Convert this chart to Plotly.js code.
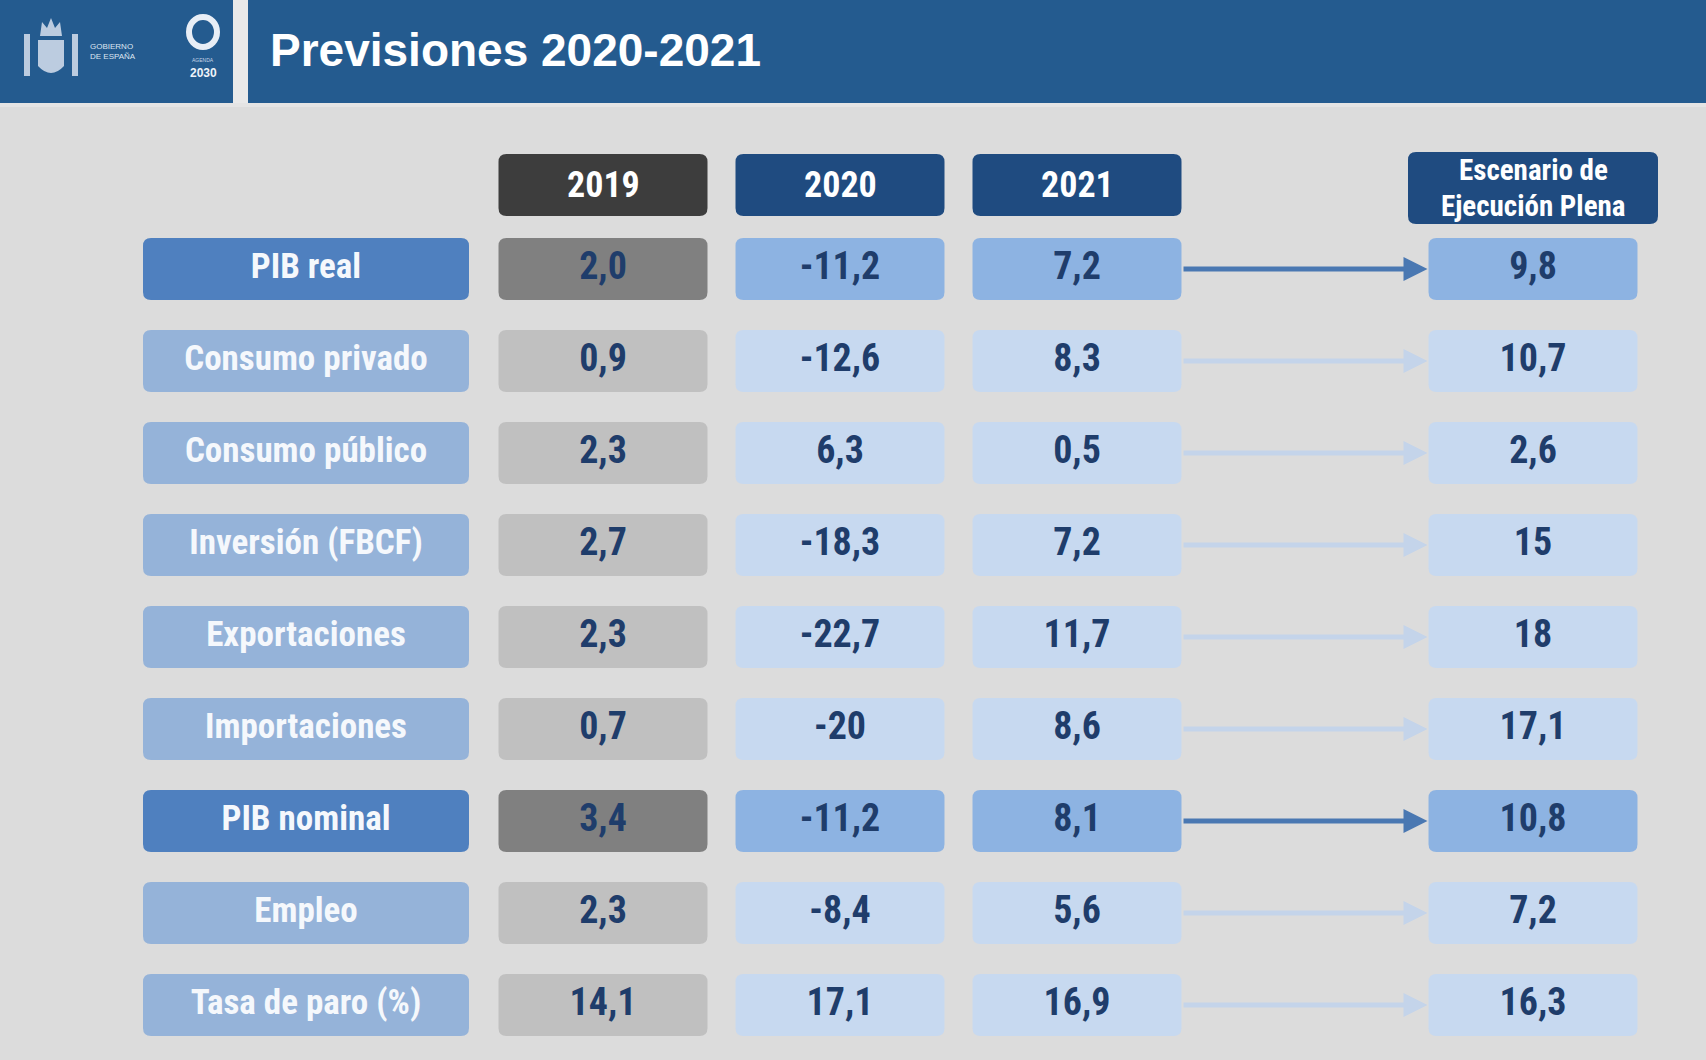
<!DOCTYPE html>
<html>
<head>
<meta charset="utf-8">
<script src="https://cdn.plot.ly/plotly-3.0.1.min.js"></script>
<style>
  html, body { margin: 0; padding: 0; background: #dcdcdc; }
  #chart { width: 1706px; height: 1060px; }
</style>
</head>
<body>
<div id="chart"></div>
<script>
// ---------------- DATA ----------------
const title = "Previsiones 2020-2021";
const indicators = ["PIB real", "Consumo privado", "Consumo público", "Inversión (FBCF)",
  "Exportaciones", "Importaciones", "PIB nominal", "Empleo", "Tasa de paro (%)"];
const columnHeaders = ["2019", "2020", "2021"];
const scenarioHeader = ["Escenario de", "Ejecución Plena"];
const values2019 = [2.0, 0.9, 2.3, 2.7, 2.3, 0.7, 3.4, 2.3, 14.1];
const values2020 = [-11.2, -12.6, 6.3, -18.3, -22.7, -20, -11.2, -8.4, 17.1];
const values2021 = [7.2, 8.3, 0.5, 7.2, 11.7, 8.6, 8.1, 5.6, 16.9];
const valuesScenario = [9.8, 10.7, 2.6, 15, 18, 17.1, 10.8, 7.2, 16.3];
const highlightRows = ["PIB real", "PIB nominal"];

// ---------------- LAYOUT GRID (pixels) ----------------
const W = 1706, H = 1060;
const GRID = {
  rowStart: 269, rowStep: 92, cellH: 62,
  labelX: 306, labelW: 326,
  colX: [603, 840, 1077], colW: 209,
  scenX: 1533, scenHeadW: 250,
  headY: 185, headH: 62, scenHeadY: 188, scenHeadH: 72
};
const C = {
  bg: "#dcdcdc", band: "#245b8f", gap: "#e9e9e9",
  labelDark: "#4f80bf", labelLight: "#95b3d9",
  g19Dark: "#808080", g19Light: "#c0c0c0", head19: "#3d3d3d",
  valDark: "#8db3e2", valLight: "#c7d9f0", headBlue: "#1f4b80",
  valText: "#1f3d6b", arrowDark: "#4a78b2", arrowLight: "#c4d4ea"
};
const FONT = "'Liberation Sans Narrow', 'Arial Narrow', 'Roboto Condensed', sans-serif";

function fmt(v) {
  if (Number.isInteger(v) && Math.abs(v) >= 10) return String(v);
  return v.toFixed(1).replace(".", ",");
}
function rowY(i) { return GRID.rowStart + i * GRID.rowStep; }
function rrect(cx, cy, w, h, r, color) {
  const x0 = cx - w / 2, x1 = cx + w / 2, y0 = cy - h / 2, y1 = cy + h / 2;
  const p = `M${x0 + r},${y0} L${x1 - r},${y0} Q${x1},${y0} ${x1},${y0 + r} L${x1},${y1 - r} ` +
    `Q${x1},${y1} ${x1 - r},${y1} L${x0 + r},${y1} Q${x0},${y1} ${x0},${y1 - r} L${x0},${y0 + r} Q${x0},${y0} ${x0 + r},${y0} Z`;
  return { type: "path", path: p, xref: "x", yref: "y", fillcolor: color, line: { width: 0 }, layer: "below" };
}

const shapes = [];
const annotations = [];

// Header band
shapes.push({ type: "rect", xref: "x", yref: "y", x0: 0, x1: W, y0: 0, y1: 103, fillcolor: C.band, line: { width: 0 }, layer: "below" });
shapes.push({ type: "rect", xref: "x", yref: "y", x0: 233, x1: 248, y0: 0, y1: 105, fillcolor: C.gap, line: { width: 0 }, layer: "below" });
shapes.push({ type: "rect", xref: "x", yref: "y", x0: 0, x1: W, y0: 103, y1: 107, fillcolor: "#e4e4e4", line: { width: 0 }, layer: "below" });
annotations.push({ x: 268, y: 50, xref: "x", yref: "y", xanchor: "left", yanchor: "middle", showarrow: false,
  text: "<b>" + title + "</b>", font: { family: "'Liberation Sans', Arial, sans-serif", size: 46, color: "#ffffff" } });

// Logo (simplified coat of arms, text and Agenda 2030 ring)
const logoC = "rgba(215,225,238,0.85)";
shapes.push({ type: "path", xref: "x", yref: "y", path: "M38,40 L64,40 L64,66 Q51,80 38,66 Z", fillcolor: logoC, line: { width: 0 } });
shapes.push({ type: "rect", xref: "x", yref: "y", x0: 24, x1: 30, y0: 34, y1: 76, fillcolor: logoC, line: { width: 0 } });
shapes.push({ type: "rect", xref: "x", yref: "y", x0: 72, x1: 78, y0: 34, y1: 76, fillcolor: logoC, line: { width: 0 } });
shapes.push({ type: "path", xref: "x", yref: "y", path: "M40,36 L42,22 L47,28 L51,18 L55,28 L60,22 L62,36 Z", fillcolor: logoC, line: { width: 0 } });
annotations.push({ x: 88, y: 51, xref: "x", yref: "y", xanchor: "left", yanchor: "middle", showarrow: false, align: "left",
  text: "GOBIERNO<br>DE ESPAÑA", font: { family: "'Liberation Sans', Arial", size: 8, color: "#dde6f1" } });
shapes.push({ type: "circle", xref: "x", yref: "y", x0: 189, x1: 217, y0: 17, y1: 47, line: { color: "#e8eef6", width: 6 } });
annotations.push({ x: 203, y: 60, xref: "x", yref: "y", showarrow: false, text: "AGENDA",
  font: { family: "'Liberation Sans', Arial", size: 5, color: "#c8d6e8" } });
annotations.push({ x: 203, y: 73, xref: "x", yref: "y", showarrow: false, text: "<b>2030</b>",
  font: { family: "'Liberation Sans', Arial", size: 12, color: "#eef3f9" } });

// Column headers
columnHeaders.forEach((h, j) => {
  shapes.push(rrect(GRID.colX[j], GRID.headY, GRID.colW, GRID.headH, 8, j === 0 ? C.head19 : C.headBlue));
  annotations.push({ x: GRID.colX[j], y: GRID.headY, xref: "x", yref: "y", showarrow: false,
    text: "<b>" + h + "</b>", font: { family: FONT, size: 36, color: "#ffffff" } });
});
shapes.push(rrect(GRID.scenX, GRID.scenHeadY, GRID.scenHeadW, GRID.scenHeadH, 8, C.headBlue));
scenarioHeader.forEach((t, k) => {
  annotations.push({ x: GRID.scenX, y: GRID.scenHeadY - 18 + k * 36, xref: "x", yref: "y", showarrow: false,
    text: "<b>" + t + "</b>", font: { family: FONT, size: 29, color: "#ffffff" } });
});

// Cells and arrows
indicators.forEach((name, i) => {
  const y = rowY(i);
  const hi = highlightRows.includes(name);
  shapes.push(rrect(GRID.labelX, y, GRID.labelW, GRID.cellH, 8, hi ? C.labelDark : C.labelLight));
  shapes.push(rrect(GRID.colX[0], y, GRID.colW, GRID.cellH, 8, hi ? C.g19Dark : C.g19Light));
  shapes.push(rrect(GRID.colX[1], y, GRID.colW, GRID.cellH, 8, hi ? C.valDark : C.valLight));
  shapes.push(rrect(GRID.colX[2], y, GRID.colW, GRID.cellH, 8, hi ? C.valDark : C.valLight));
  shapes.push(rrect(GRID.scenX, y, GRID.colW, GRID.cellH, 8, hi ? C.valDark : C.valLight));
  const ac = hi ? C.arrowDark : C.arrowLight;
  const xs = GRID.colX[2] + GRID.colW / 2 + 2, xe = GRID.scenX - GRID.colW / 2 - 1, hl = 24, hw = 12;
  shapes.push({ type: "line", xref: "x", yref: "y", x0: xs, x1: xe - hl + 2, y0: y, y1: y, line: { color: ac, width: 5 }, layer: "below" });
  shapes.push({ type: "path", xref: "x", yref: "y", path: `M${xe - hl},${y - hw} L${xe},${y} L${xe - hl},${y + hw} Z`,
    fillcolor: ac, line: { width: 0 }, layer: "below" });
});

// Text traces (values drawn via axes)
const ys = indicators.map((_, i) => rowY(i));
function textTrace(xc, texts, color, size) {
  return { type: "scatter", mode: "text", x: ys.map(() => xc), y: ys, text: texts.map(t => "<b>" + t + "</b>"),
    textposition: "middle center", textfont: { family: FONT, size: size, color: color },
    hoverinfo: "skip", showlegend: false, cliponaxis: false };
}
const data = [
  textTrace(GRID.labelX, indicators, "#f5f8fc", 35),
  textTrace(GRID.colX[0], values2019.map(fmt), C.valText, 38),
  textTrace(GRID.colX[1], values2020.map(fmt), C.valText, 38),
  textTrace(GRID.colX[2], values2021.map(fmt), C.valText, 38),
  textTrace(GRID.scenX, valuesScenario.map(fmt), C.valText, 38)
];

const layout = {
  width: W, height: H,
  margin: { l: 0, r: 0, t: 0, b: 0, pad: 0 },
  paper_bgcolor: C.bg, plot_bgcolor: C.bg,
  xaxis: { range: [0, W], visible: false, fixedrange: true },
  yaxis: { range: [H, 0], visible: false, fixedrange: true },
  shapes: shapes, annotations: annotations, showlegend: false
};
Plotly.newPlot("chart", data, layout, { displayModeBar: false, staticPlot: true });
</script>
</body>
</html>
